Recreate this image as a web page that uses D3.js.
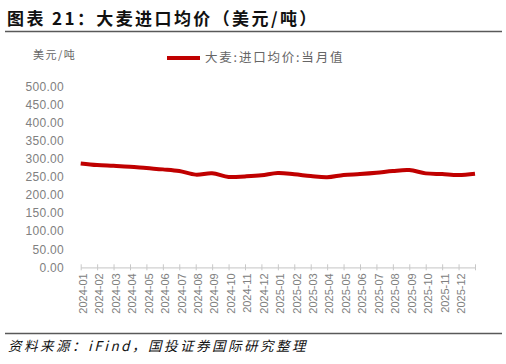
<!DOCTYPE html>
<html><head><meta charset="utf-8">
<script src="https://cdn.jsdelivr.net/npm/d3@7"></script>
<style>
html,body{margin:0;padding:0;background:#fff;}
svg{display:block;}
</style></head>
<body>
<svg id="c" width="506" height="364"></svg>
<script>
const months = ["2024-01","2024-02","2024-03","2024-04","2024-05","2024-06","2024-07","2024-08","2024-09","2024-10","2024-11","2024-12",
"2025-01","2025-02","2025-03","2025-04","2025-05","2025-06","2025-07","2025-08","2025-09","2025-10","2025-11","2025-12","2026-01"];
const tickLabels = ["2024-01","2024-02","2024-03","2024-04","2024-05","2024-06","2024-07","2024-08","2024-09","2024-10","2024-11","2024-12",
"2025-01","2025-02","2025-03","2025-04","2025-05","2025-06","2025-07","2025-08","2025-09","2025-10","2025-11","2025-12"];
const values = [287,282.5,280.5,278,274,270.5,266,256,259.5,249.5,251,254,260.5,257,252,248.5,255,257.5,261,266,268.5,259.5,257.5,255,258.5];
const yTicks = [0,50,100,150,200,250,300,350,400,450,500];
const title = "图表 21：大麦进口均价（美元/吨）";
const unit = "美元/吨";
const seriesName = "大麦:进口均价:当月值";
const source = "资料来源：iFind，国投证券国际研究整理";

const svg = d3.select("#c");
const cjk = "'Noto Sans CJK SC','Noto Sans',sans-serif";

// title
svg.append("text").attr("x",7).attr("y",25).attr("font-family",cjk).attr("font-weight","bold")
  .attr("font-size",17).attr("fill","#111").attr("letter-spacing",2.4).text(title);
svg.append("line").attr("x1",5).attr("x2",502).attr("y1",31.5).attr("y2",31.5).attr("stroke","#595959").attr("stroke-width",1.5);

const x = d3.scalePoint().domain(months).range([80.7,475]);
const y = d3.scaleLinear().domain([0,500]).range([267.3,86.3]);

// y axis labels
const ya = svg.append("g").attr("transform","translate(64,0)")
  .call(d3.axisLeft(y).tickValues(yTicks).tickSize(0).tickPadding(0).tickFormat(d3.format(".2f")));
ya.select(".domain").remove();
ya.selectAll("text").attr("font-family","'Liberation Sans',Arial,sans-serif").attr("font-size",12).attr("fill","#808080").attr("letter-spacing",0.3);

// unit
svg.append("text").attr("x",33).attr("y",59).attr("font-family",cjk).attr("font-size",11).attr("fill","#666").attr("letter-spacing",1.5).text(unit);

// x axis
const xa = svg.append("g").attr("transform",`translate(0,${y(0)})`)
  .call(d3.axisBottom(x).tickSizeInner(3).tickSizeOuter(0).tickFormat(d => tickLabels.includes(d) ? d : ""));
xa.select(".domain").attr("stroke","#d0d0d0").attr("stroke-width",1.2);
xa.selectAll(".tick line").attr("stroke","#c8c8c8").attr("y1",-3).attr("y2",3);
xa.selectAll("text").attr("font-family","'Liberation Sans',Arial,sans-serif").attr("font-size",11).attr("fill","#808080")
  .attr("transform","rotate(-90)").attr("text-anchor","end").attr("dy","0.35em").attr("dx","-6").attr("x",0).attr("y",2);

// line
const line = d3.line().x((d,i)=>x(months[i])).y(d=>y(d)).curve(d3.curveCatmullRom.alpha(0.5));
svg.append("path").datum(values).attr("d",line).attr("fill","none").attr("stroke","#C00000").attr("stroke-width",4).attr("stroke-linejoin","round");

// legend
svg.append("line").attr("x1",167).attr("x2",200).attr("y1",58).attr("y2",58).attr("stroke","#C00000").attr("stroke-width",4);
svg.append("text").attr("x",205).attr("y",62).attr("font-family",cjk).attr("font-size",12.5).attr("fill","#666").attr("letter-spacing",1.8).text(seriesName);

// bottom rule & source
svg.append("line").attr("x1",5).attr("x2",502).attr("y1",333.5).attr("y2",333.5).attr("stroke","#595959").attr("stroke-width",1.5);
svg.append("text").attr("x",8).attr("y",351).attr("font-family",cjk).attr("font-style","italic").attr("font-size",13.5).attr("fill","#111").attr("letter-spacing",2.5).text(source);
</script>
</body></html>
